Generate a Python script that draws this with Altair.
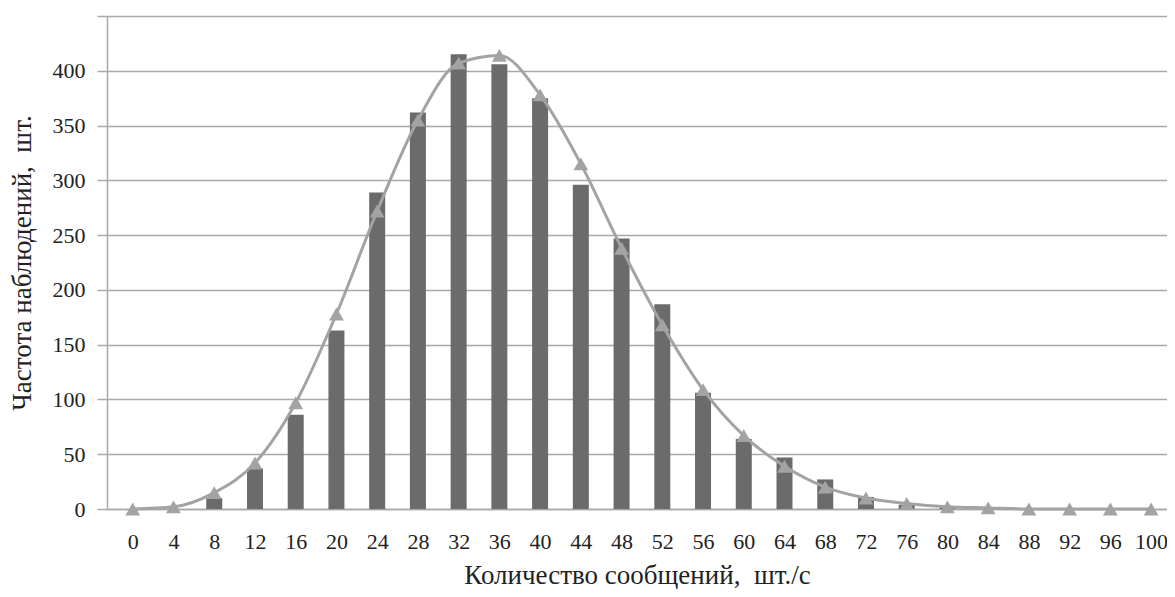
import altair as alt
import pandas as pd

x_vals = [0, 4, 8, 12, 16, 20, 24, 28, 32, 36, 40, 44, 48, 52, 56, 60, 64, 68, 72, 76, 80, 84, 88, 92, 96, 100]
observed = [0, 0, 10, 37, 86, 163, 289, 362, 415, 406, 375, 296, 247, 187, 106, 64, 47, 27, 11, 4, 1, 0, 0, 0, 0, 0]
theoretical = [0, 2, 15, 42, 97, 178, 272, 355, 407, 414, 378, 315, 238, 168, 109, 67, 39, 20, 10, 5, 2, 1, 0, 0, 0, 0]

df = pd.DataFrame({"x": x_vals, "obs": observed, "theo": theoretical})

FONT = "'Liberation Serif', 'Times New Roman', 'DejaVu Serif', serif"
GRID = "#a8a8a8"

xscale = alt.Scale(domain=[-2.04, 101.07], nice=False, zero=False)
yscale = alt.Scale(domain=[0, 450], nice=False)

x_axis = alt.Axis(
    values=x_vals, grid=False, ticks=False, tickSize=0, labelPadding=22,
    title="Количество сообщений,\u00a0 шт./с",
    titleY=74, titleBaseline="alphabetic",
)
y_axis = alt.Axis(
    values=list(range(0, 451, 50)), grid=True, tickSize=10, labelPadding=12,
    labelExpr="datum.value == 450 ? '' : datum.label",
    title="Частота наблюдений,\u00a0 шт.",
    titleX=-85, titleBaseline="middle", titleAlign="center",
)

bars = alt.Chart(df).mark_bar(size=16, color="#6b6b6b").encode(
    x=alt.X("x:Q", scale=xscale, axis=x_axis),
    y=alt.Y("obs:Q", scale=yscale, axis=y_axis),
)

line = alt.Chart(df).mark_line(
    color="#a3a3a3", strokeWidth=3, interpolate="monotone",
    point=alt.OverlayMarkDef(shape="triangle-up", size=220, color="#a3a3a3", filled=True, opacity=1),
).encode(
    x=alt.X("x:Q", scale=xscale),
    y=alt.Y("theo:Q", scale=yscale),
)

chart = alt.layer(bars, line).properties(
    width=1060, height=493,
    autosize=alt.AutoSizeParams(type="none"),
    padding={"left": 99, "top": 8, "right": 0, "bottom": 80},
).configure_view(stroke=None).configure(background="white").configure_axis(
    labelFont=FONT, labelFontSize=22, labelColor="#222222",
    titleFont=FONT, titleFontSize=27, titleFontWeight="normal", titleColor="#222222",
    gridColor=GRID, gridWidth=1.5, tickColor=GRID, tickWidth=1.5,
    domainColor=GRID, domainWidth=1.5,
)

chart.save("out.html", embed_options={"renderer": "svg", "actions": False})
